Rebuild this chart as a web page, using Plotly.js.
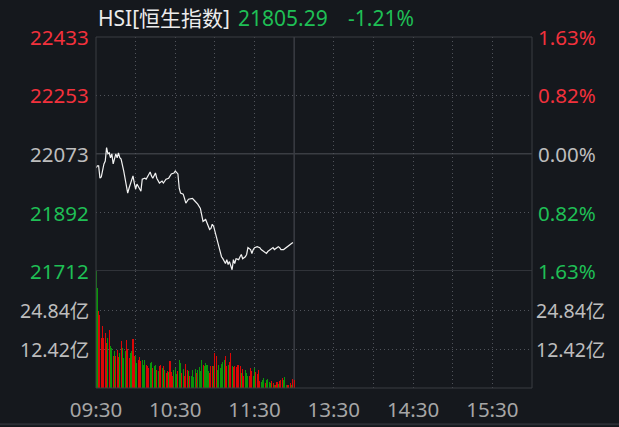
<!DOCTYPE html>
<html>
<head>
<meta charset="utf-8">
<script src="https://cdn.plot.ly/plotly-3.0.1.min.js"></script>
<style>html,body{margin:0;padding:0;background:#15181d;}#chart{width:619px;height:427px;}</style>
</head>
<body>
<div id="chart"></div>
<script>
// ---- data ----
const titleName = 'HSI[恒生指数]';
const lastPrice = '21805.29';
const lastChange = '-1.21%';
const prevClose = 22073;

// minute offsets from 09:30 and index values
const priceMin = [0,1,2,3,4,5,6,7,8,9,10,11,12,13,14,15,16,17,18,19,21,22,24,25,27,28,29,30,31,33,34,35,37,38,40,41,42,43,45,46,48,50,51,53,55,57,59,60,62,63,64,66,67,68,70,72,73,75,77,79,80,81,83,84,86,87,88,89,91,93,94,95,96,98,99,100,101,103,104,105,106,108,109,110,111,113,114,115,117,118,119,120,122,124,125,127,129,130,132,133,134,135,137,138,139,140,142,144,147,148,149];
const priceVal = [22030,22036,22036,21998,22002,22026,22042,22051,22092,22073,22076,22061,22073,22042,22061,22073,22061,22076,22061,22057,22020,21998,21952,21967,21998,22005,21983,21964,21980,21967,21958,21995,21998,21995,22011,22017,22005,21998,22014,21998,21983,21989,21983,21995,21998,22011,22014,22020,22011,21967,21952,21949,21936,21921,21933,21936,21936,21927,21918,21905,21881,21865,21871,21859,21840,21843,21856,21850,21818,21794,21772,21756,21750,21735,21747,21732,21741,21716,21747,21735,21750,21747,21756,21763,21750,21756,21763,21784,21778,21766,21778,21784,21787,21784,21778,21772,21766,21772,21778,21781,21784,21778,21784,21787,21784,21778,21778,21784,21794,21797,21800];

// per-minute turnover (亿) and side (R = up tick, G = down tick)
const volVal = [37.2,31.8,24.4,23.4,15.9,19.6,15.9,17.5,14.3,15.9,
  18.6,13.3,12.7,10.3,11.7,10.3,12.2,9.9,11.1,14.9,
  12.7,9.6,11.7,15.4,12.4,9.6,11.1,11.7,15.6,10.1,
  10.3,8.0,9.0,9.9,8.5,9.0,7.4,8.8,7.4,7.1,
  6.4,8.0,8.2,6.4,7.1,7.4,5.8,5.3,6.9,7.4,
  6.4,6.9,5.8,4.8,5.3,5.0,8.5,5.0,3.9,5.8,
  6.4,4.6,5.3,9.0,8.0,4.8,6.1,3.9,7.7,5.6,
  5.3,3.7,3.9,5.8,3.5,6.1,4.8,5.8,6.7,5.3,
  9.0,7.4,6.9,8.0,7.4,5.3,4.8,7.1,7.1,6.9,
  11.1,10.3,5.8,7.4,6.4,7.7,8.2,8.8,10.3,7.1,
  7.4,8.2,11.1,7.1,6.7,7.1,6.7,7.4,7.4,6.9,
  4.8,6.1,3.9,5.8,4.8,3.9,3.9,6.4,5.3,3.9,
  6.4,5.0,4.6,5.6,2.1,1.8,2.7,3.2,1.6,2.4,
  2.9,1.8,1.6,2.1,1.6,1.1,1.1,1.8,1.4,2.1,
  2.7,3.2,2.4,3.5,1.1,1.1,1.1,1.6,1.1,2.9,
  2.4];
const volSide = ('GGRRRRRRRG'+'RGGRGRRRGR'+'GGGRRRGGRR'+'GGRRRGGGRR'+'RGGRGGRGRR'+
  'GRGRRGRRRG'+'GGRGGRGRRR'+'GRGGGGRGGG'+'GRGGGGRRRG'+'RRGGGGGGRR'+
  'GRRGRRRRRR'+'GRRGGGRRRG'+'GRRRRGGGRG'+'GGGRRGRRGR'+'RRGGGRRRGR'+'R').split('');

const tickMin = [0,30,60,90,120,180,210,240,270,300];
const tickText = ['09:30','','10:30','','11:30','13:30','','14:30','','15:30'];
const lunchMin = 150;
const sessionEnd = 330;

const leftPriceTicks = [22433,22253,22073,21892,21712];
const rightPctTicks = ['1.63%','0.82%','0.00%','0.82%','1.63%'];
const volTicks = [24.84,12.42];
const volMax = 37.26;

// ---- styles ----
const BG = '#15181d';
const FRAME = '#3a3d43';
const GRID = '#50535a';
const RED = '#f2313c';
const GREEN = '#1fbf55';
const GRAY = '#bdbdbd';
const BAR_RED = '#dc0606';
const BAR_GREEN = '#0a960a';
const FONT = '"Noto Sans", "Noto Sans CJK SC", sans-serif';

const volMinutes = volVal.map((v, i) => i);

const traces = [
  {type:'scatter', mode:'lines', x: priceMin, y: priceVal, xaxis:'x', yaxis:'y',
   line:{color:'#f2f2f2', width:1.2}, hoverinfo:'skip'},
  {type:'bar', x: volMinutes, y: volVal, xaxis:'x', yaxis:'y2', width:0.78,
   marker:{color: volSide.map(s => s === 'R' ? BAR_RED : BAR_GREEN), line:{width:0}}, hoverinfo:'skip'}
];

function priceColor(p){ return p > prevClose ? RED : (p < prevClose ? GREEN : GRAY); }

const LBL = 20.5;
const ann = [];
leftPriceTicks.forEach((p, i) => {
  ann.push({xref:'paper', yref:'y', x:0, y:p, xanchor:'right', yanchor:'middle', xshift:-5,
    text:String(p), showarrow:false, font:{family:FONT, size:LBL, color:priceColor(p)}});
  ann.push({xref:'paper', yref:'y', x:1, y:p, xanchor:'left', yanchor:'middle', xshift:4,
    text:rightPctTicks[i], showarrow:false, font:{family:FONT, size:LBL, color:priceColor(p)}});
});
volTicks.forEach(v => {
  ann.push({xref:'paper', yref:'y2', x:0, y:v, xanchor:'right', yanchor:'middle', xshift:-5,
    text:v.toFixed(2)+'亿', showarrow:false, font:{family:FONT, size:19.5, color:GRAY}});
  ann.push({xref:'paper', yref:'y2', x:1, y:v, xanchor:'left', yanchor:'middle', xshift:2,
    text:v.toFixed(2)+'亿', showarrow:false, font:{family:FONT, size:19.5, color:GRAY}});
});
ann.push({xref:'paper', yref:'paper', x:0.0, y:1.054, xanchor:'left', yanchor:'middle',
  text:titleName, showarrow:false, font:{family:FONT, size:21, color:'#ececec'}});
ann.push({xref:'paper', yref:'paper', x:0.32, y:1.054, xanchor:'left', yanchor:'middle',
  text:lastPrice, showarrow:false, font:{family:FONT, size:21, color:GREEN}});
ann.push({xref:'paper', yref:'paper', x:0.573, y:1.054, xanchor:'left', yanchor:'middle',
  text:lastChange, showarrow:false, font:{family:FONT, size:21, color:GREEN}});

const shapes = [
  {type:'rect', xref:'paper', yref:'paper', x0:0, x1:1, y0:0, y1:1, line:{color:FRAME, width:1}, layer:'above'},
  {type:'line', xref:'paper', yref:'y', x0:0, x1:1, y0:prevClose, y1:prevClose, line:{color:FRAME, width:1.5}, layer:'below'},
  {type:'line', xref:'paper', yref:'y', x0:0, x1:1, y0:leftPriceTicks[4], y1:leftPriceTicks[4], line:{color:FRAME, width:1.5}, layer:'below'},
  {type:'line', xref:'x', yref:'paper', x0:lunchMin, x1:lunchMin, y0:0, y1:1, line:{color:FRAME, width:1.5}, layer:'below'},
  {type:'line', xref:'paper', yref:'paper', x0:-0.3, x1:1.3, y0:-0.103, y1:-0.103, line:{color:'#2b2e34', width:2}}
];

const axisCommon = {zeroline:false, showline:false, ticks:'', fixedrange:true,
  gridcolor:GRID, gridwidth:1, griddash:'1px,3px', showgrid:true};

const layout = {
  width:619, height:427,
  paper_bgcolor:BG, plot_bgcolor:BG,
  margin:{l:96, r:87, t:37, b:39},
  showlegend:false,
  bargap:0,
  xaxis:Object.assign({}, axisCommon, {range:[0, sessionEnd], tickmode:'array', tickvals:tickMin, ticktext:tickText,
    anchor:'y2', tickfont:{family:FONT, size:20.5, color:'#a6a6a6'}, ticklabelstandoff:7}),
  yaxis:Object.assign({}, axisCommon, {domain:[0.3333,1], range:[leftPriceTicks[4], leftPriceTicks[0]],
    tickmode:'array', tickvals:[leftPriceTicks[1], leftPriceTicks[3]], showticklabels:false}),
  yaxis2:Object.assign({}, axisCommon, {domain:[0,0.3333], range:[0, volMax],
    tickmode:'array', tickvals:volTicks, showticklabels:false}),
  annotations:ann,
  shapes:shapes
};

Plotly.newPlot('chart', traces, layout, {displayModeBar:false, staticPlot:true});
</script>
</body>
</html>
